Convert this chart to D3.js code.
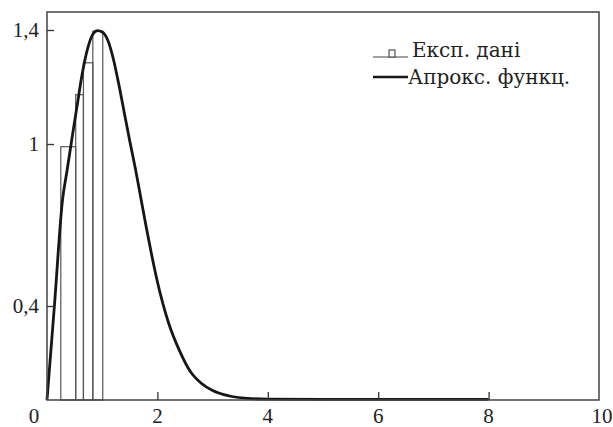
<!DOCTYPE html>
<html><head><meta charset="utf-8">
<script src="https://cdn.jsdelivr.net/npm/d3@7"></script>
<style>body{margin:0;background:#fff}svg{display:block}</style>
</head><body>
<svg id="c" width="613" height="427"></svg>
<script>
// Experimental histogram bins (edges) and heights
const binEdges = [0.25, 0.52, 0.66, 0.83, 1.01];
const binHeights = [0.99, 1.173, 1.285, 1.396];
// Approximating function samples
const curveX = [0, 0.134, 0.281, 0.362, 0.462, 0.553, 0.634, 0.743, 0.833, 0.915, 1.0, 1.1, 1.2, 1.3, 1.4, 1.5, 1.6, 1.7, 1.8, 1.9, 2.0, 2.2, 2.4, 2.6, 2.8, 3.0, 3.3, 3.7, 4, 5, 6, 7, 8];
const curveY = [0, 0.4, 0.793, 0.9, 1.032, 1.144, 1.242, 1.34, 1.386, 1.398, 1.393, 1.365, 1.3, 1.21, 1.11, 1.01, 0.91, 0.80, 0.69, 0.585, 0.49, 0.33, 0.21, 0.12, 0.07, 0.04, 0.017, 0.006, 0.004, 0.003, 0.003, 0.003, 0.003];
const xTicks = [0, 2, 4, 6, 8, 10];
const xTickLabels = ["0", "2", "4", "6", "8", "10"];
const yTicks = [0.4, 1, 1.4];
const yTickLabels = ["0,4", "1", "1,4"];
const legendLabels = ["Експ. дані", "Апрокс. функц."];

const svg = d3.select("#c");
const L = 47, R = 599, T = 12, B = 400;
const x = d3.scaleLinear().domain([0, 10]).range([L, R]);
const y = d3.scaleLinear().domain([0, 0.4, 1, 1.4, 1.463]).range([B, 306, 144, 30, T]);
const font = "'Liberation Serif','DejaVu Serif',serif";
const lfont = "'DejaVu Serif','Liberation Serif',serif";

// bars
const bars = binHeights.map((h, i) => ({x0: binEdges[i], x1: binEdges[i + 1], h}));
svg.append("g").selectAll("rect").data(bars).join("rect")
  .attr("x", d => x(d.x0)).attr("y", d => y(d.h))
  .attr("width", d => x(d.x1) - x(d.x0)).attr("height", d => y(0) - y(d.h))
  .attr("fill", "none").attr("stroke", "#555").attr("stroke-width", 1.2);

// curve
const pts = curveX.map((v, i) => [v, curveY[i]]);
svg.append("path").datum(pts)
  .attr("d", d3.line().x(d => x(d[0])).y(d => y(d[1])).curve(d3.curveMonotoneX))
  .attr("fill", "none").attr("stroke", "#161616").attr("stroke-width", 2.8);

// frame
svg.append("rect").attr("x", L).attr("y", T).attr("width", R - L).attr("height", B - T)
  .attr("fill", "none").attr("stroke", "#444").attr("stroke-width", 1.5);

// x axis ticks (inward)
const xAxis = d3.axisTop(x).tickValues(xTicks.slice(1, -1)).tickSize(8).tickFormat("");
const gx = svg.append("g").attr("transform", `translate(0,${B})`).call(xAxis);
gx.select(".domain").remove();
gx.selectAll("line").attr("stroke", "#333").attr("stroke-width", 1.3);
svg.append("g").selectAll("text").data(xTicks).join("text")
  .attr("x", (d, i) => i === 0 ? 34 : (i === xTicks.length - 1 ? 602 : x(d)))
  .attr("y", 423).attr("text-anchor", "middle")
  .attr("font-family", font).attr("font-size", 21).attr("fill", "#222")
  .text((d, i) => xTickLabels[i]);

// y axis ticks (inward)
const yAxis = d3.axisRight(y).tickValues(yTicks).tickSize(7).tickFormat("");
const gy = svg.append("g").attr("transform", `translate(${L},0)`).call(yAxis);
gy.select(".domain").remove();
gy.selectAll("line").attr("stroke", "#333").attr("stroke-width", 1.3);
svg.append("g").selectAll("text").data(yTicks).join("text")
  .attr("x", 39).attr("y", d => y(d) + 7).attr("text-anchor", "end")
  .attr("font-family", font).attr("font-size", 21).attr("fill", "#222")
  .text((d, i) => yTickLabels[i]);

// legend
const lg = svg.append("g");
lg.append("line").attr("x1", 373).attr("x2", 408).attr("y1", 57).attr("y2", 57)
  .attr("stroke", "#444").attr("stroke-width", 1.2);
lg.append("rect").attr("x", 389).attr("y", 50).attr("width", 6).attr("height", 7)
  .attr("fill", "#fff").attr("stroke", "#444").attr("stroke-width", 1.1);
lg.append("line").attr("x1", 373).attr("x2", 408).attr("y1", 77).attr("y2", 77)
  .attr("stroke", "#161616").attr("stroke-width", 2.6);
lg.selectAll("text").data(legendLabels).join("text")
  .attr("x", (d, i) => i === 0 ? 412 : 408).attr("y", (d, i) => i === 0 ? 57 : 84)
  .attr("font-family", lfont).attr("font-size", 20).attr("fill", "#222")
  .text(d => d);
</script>
</body></html>
